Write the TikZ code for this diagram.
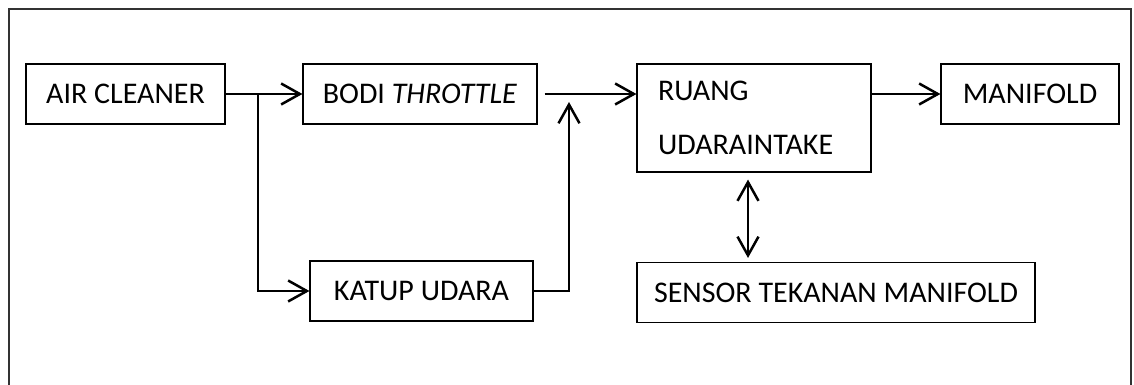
\documentclass[tikz,border=0pt]{standalone}
\usepackage{fontspec}
\setmainfont{Carlito}
\usetikzlibrary{arrows.meta,calc}
\definecolor{FrameClr}{rgb}{0.2,0.2,0.2}

\begin{document}
\begin{tikzpicture}[x=0.4pt,y=-0.4pt,font=\fontsize{12}{14}\selectfont,
  box/.style={draw,line width=0.45pt,inner sep=0pt,minimum height=24pt},
  barb/.tip={Straight Barb[length=7.5pt,width=8.4pt]},
  link/.style={line width=1pt,-barb}]
\useasboundingbox (0,0) rectangle (1134,385);
\draw[FrameClr,line width=0.45pt] (9,385) -- (9,9) -- (1131,9) -- (1131,385);

\node[box,minimum width=79.6pt] (air) at (125.5,94) {AIR CLEANER};
\node[box,minimum width=93.6pt] (bodi) at (420,94) {BODI \textit{THROTTLE}};
\node[box,minimum width=93.6pt,minimum height=43.2pt,inner xsep=8.4pt,
  text width=76.8pt,align=left,font=\fontsize{12}{21.6}\selectfont] (ruang) at (754,118) {RUANG\\UDARAINTAKE};
\node[box,minimum width=71.2pt] (manifold) at (1030,94) {MANIFOLD};
\node[box,minimum width=89.2pt] (katup) at (421.5,291) {KATUP UDARA};
\node[box,minimum width=159.2pt] (sensor) at (836,292.5) {SENSOR TEKANAN MANIFOLD};

\coordinate (split) at (258,94);
\coordinate (merge) at (569,94);
\coordinate (tap) at (748,118);

\draw[link] (air) -- (bodi);
\draw[link] (split) |- (katup);
\draw[link,shorten >=3.2pt] (katup) -| (merge);
\draw[link,shorten <=2.8pt] (bodi.east) -- (bodi.east -| ruang.west);
\draw[link] (ruang.east |- manifold.west) -- (manifold.west);
\draw[link,barb-barb,shorten <=2.8pt,shorten >=1.6pt] (tap |- ruang.south) -- (tap |- sensor.north);

\end{tikzpicture}
\end{document}
